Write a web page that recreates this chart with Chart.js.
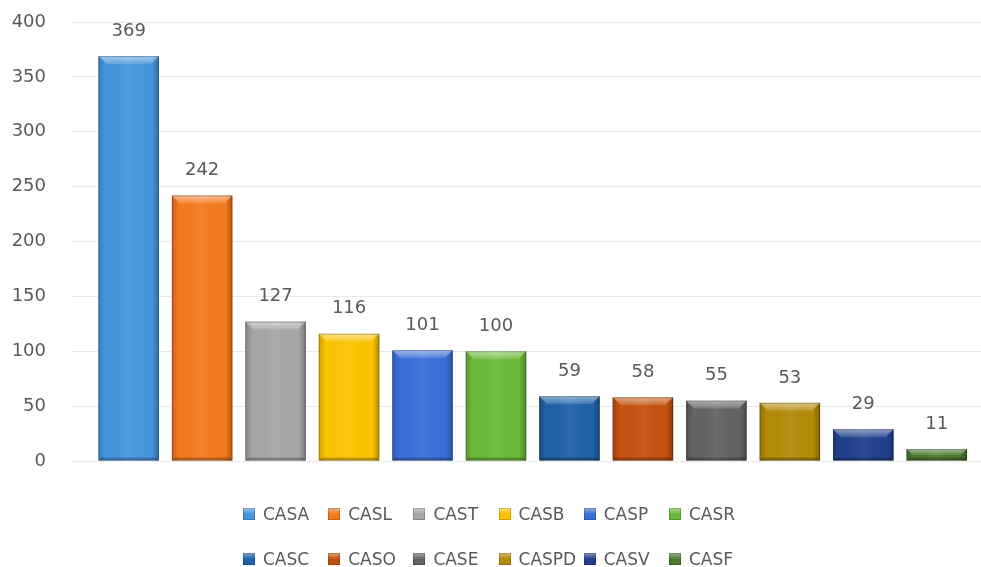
<!DOCTYPE html>
<html>
<head>
<meta charset="utf-8">
<script src="https://cdn.jsdelivr.net/npm/chart.js@4.4.1/dist/chart.umd.min.js"></script>
<style>
  html, body { margin: 0; padding: 0; background: #fff; }
  #wrap { position: relative; width: 981px; height: 567px; }
  #legend {
    position: absolute; left: 243px; top: 502px;
    display: grid; grid-template-columns: repeat(6, 85.2px); grid-auto-rows: 45px;
    font-family: "DejaVu Sans", sans-serif; font-size: 17px; color: #595959;
  }
  .item { display: flex; align-items: center; height: 24px; white-space: nowrap; }
  .box {
    width: 12px; height: 12px; margin-right: 8px; flex: none;
    box-shadow: inset 0 0 0 1px rgba(0,0,0,0.2);
  }
</style>
</head>
<body>
<div id="wrap">
  <canvas id="grafico" width="981" height="567"></canvas>
  <div id="legend"></div>
</div>
<script>
var categorias = ["CASA", "CASL", "CAST", "CASB", "CASP", "CASR", "CASC", "CASO", "CASE", "CASPD", "CASV", "CASF"];
var valores = [369, 242, 127, 116, 101, 100, 59, 58, 55, 53, 29, 11];
var cores = ["#4796e0", "#f57a1e", "#a6a6a6", "#fcc400", "#3a6fd8", "#6bbb3a",
             "#1f62a8", "#c4520f", "#636363", "#b38b08", "#21418e", "#4a7a30"];

var textoCor = "#595959";
var fonte = "'DejaVu Sans', sans-serif";

// bisel parecido com o do Excel, desenhado por cima de cada barra
var biselPlugin = {
    id: "bisel",
    afterDatasetsDraw: function(chart) {
        var ctx = chart.ctx;
        var meta = chart.getDatasetMeta(0);
        meta.data.forEach(function(bar) {
            var l = bar.x - bar.width / 2, r = bar.x + bar.width / 2;
            var t = bar.y, b = bar.base;
            var h = b - t;
            var bv = Math.min(8, h / 2);
            ctx.save();

            var g = ctx.createLinearGradient(l, 0, r, 0);
            g.addColorStop(0, "rgba(0,0,0,0.18)");
            g.addColorStop(0.12, "rgba(0,0,0,0)");
            g.addColorStop(0.5, "rgba(255,255,255,0.06)");
            g.addColorStop(0.88, "rgba(0,0,0,0)");
            g.addColorStop(1, "rgba(0,0,0,0.28)");
            ctx.fillStyle = g;
            ctx.fillRect(l, t, r - l, h);

            // topo claro
            var gt = ctx.createLinearGradient(0, t, 0, t + bv);
            gt.addColorStop(0, "rgba(255,255,255,0.5)");
            gt.addColorStop(1, "rgba(255,255,255,0.12)");
            ctx.fillStyle = gt;
            ctx.beginPath();
            ctx.moveTo(l, t);
            ctx.lineTo(r, t);
            ctx.lineTo(r - bv, t + bv);
            ctx.lineTo(l + bv, t + bv);
            ctx.closePath();
            ctx.fill();

            // base escura
            ctx.fillStyle = "rgba(0,0,0,0.22)";
            ctx.beginPath();
            ctx.moveTo(l, b);
            ctx.lineTo(r, b);
            ctx.lineTo(r - 3, b - 3);
            ctx.lineTo(l + 3, b - 3);
            ctx.closePath();
            ctx.fill();

            ctx.strokeStyle = "rgba(0,0,0,0.25)";
            ctx.lineWidth = 1;
            ctx.strokeRect(l + 0.5, t + 0.5, r - l - 1, h - 1);
            ctx.restore();
        });
    }
};

var rotulosPlugin = {
    id: "rotulos",
    afterDatasetsDraw: function(chart) {
        var ctx = chart.ctx;
        var meta = chart.getDatasetMeta(0);
        ctx.save();
        ctx.font = "18px " + fonte;
        ctx.fillStyle = textoCor;
        ctx.textAlign = "center";
        ctx.textBaseline = "middle";
        meta.data.forEach(function(bar, i) {
            ctx.fillText(String(valores[i]), bar.x, bar.y - 25);
        });
        ctx.restore();
    }
};

var pontos = valores.map(function(v, i) { return { x: i, y: v }; });

var ctx = document.getElementById("grafico").getContext("2d");
var myNewChart = new Chart(ctx, {
    type: "bar",
    data: {
        labels: categorias,
        datasets: [{
            label: "Total",
            data: pontos,
            backgroundColor: cores,
            borderWidth: 0,
            barPercentage: 0.8235,
            categoryPercentage: 1
        }]
    },
    options: {
        responsive: false,
        animation: false,
        layout: { padding: { top: 22, bottom: 106, left: 0, right: 0 } },
        plugins: {
            legend: { display: false },
            tooltip: { enabled: false }
        },
        scales: {
            x: {
                type: "linear",
                display: false,
                offset: false,
                min: -0.785,
                max: 11.602
            },
            y: {
                min: 0,
                max: 400,
                ticks: {
                    stepSize: 50,
                    padding: 0,
                    color: textoCor,
                    font: { family: fonte, size: 18 }
                },
                // marcas invisíveis só para afastar os rótulos do eixo
                grid: { color: "#e9e9e9", drawTicks: true, tickLength: 25, tickColor: "rgba(0,0,0,0)" },
                border: { display: false },
                afterFit: function(scale) { scale.width = 71; }
            }
        }
    },
    plugins: [biselPlugin, rotulosPlugin]
});

// legenda em grade, como no Excel
var legenda = document.getElementById("legend");
categorias.forEach(function(nome, i) {
    var item = document.createElement("div");
    item.className = "item";
    var box = document.createElement("span");
    box.className = "box";
    box.style.background = "linear-gradient(to bottom, rgba(255,255,255,0.45), rgba(255,255,255,0) 50%), " + cores[i];
    item.appendChild(box);
    item.appendChild(document.createTextNode(nome));
    legenda.appendChild(item);
});
</script>
</body>
</html>
